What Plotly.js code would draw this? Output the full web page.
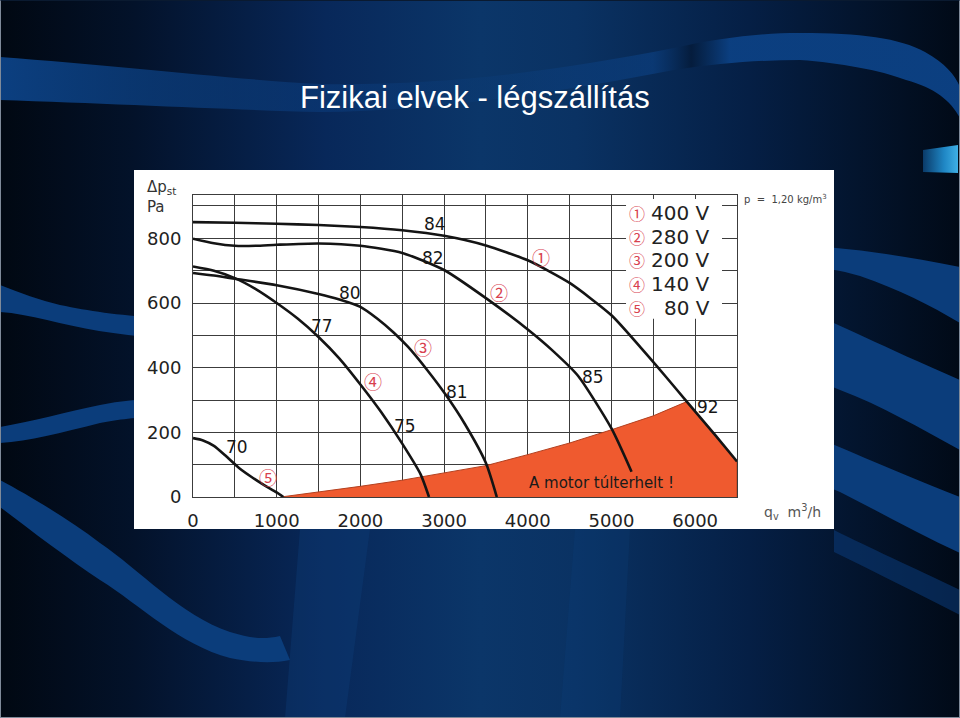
<!DOCTYPE html>
<html>
<head>
<meta charset="utf-8">
<script src="https://cdn.plot.ly/plotly-3.0.1.min.js"></script>
<style>
  html, body { margin: 0; padding: 0; background: #010a17; }
  #slide {
    position: relative; width: 960px; height: 718px; overflow: hidden;
    background: linear-gradient(90deg, #010812 0%, #03122a 14%, #08285a 34%, #0b3669 50%, #0a3263 60%, #051f45 78%, #010a17 100%);
  }
  #bg { position: absolute; left: 0; top: 0; }
  #panel { position: absolute; left: 134px; top: 170px; width: 700px; height: 359px; background: #fff; }
  #chart { position: absolute; left: 0; top: 0; width: 960px; height: 718px; }
  #frame { position: absolute; left: 0; top: 0; width: 958px; height: 716px; border: 1px solid #7f8a99; border-top-color: #0a1a30; pointer-events: none; }
</style>
</head>
<body>
<div id="slide">
  <svg id="bg" width="960" height="718" viewBox="0 0 960 718">
    <defs>
      <linearGradient id="topband" x1="0" x2="1" y1="0" y2="0">
        <stop offset="0" stop-color="#0c4286" stop-opacity="0.95"/>
        <stop offset="0.3" stop-color="#0c4286" stop-opacity="0.5"/>
        <stop offset="0.5" stop-color="#0c4286" stop-opacity="0.2"/>
        <stop offset="0.68" stop-color="#0c4286" stop-opacity="0.6"/>
        <stop offset="0.72" stop-color="#041a38" stop-opacity="0.8"/>
        <stop offset="0.76" stop-color="#0c4286" stop-opacity="0.9"/>
        <stop offset="1" stop-color="#0c4286" stop-opacity="0.95"/>
      </linearGradient>
      <linearGradient id="cyan" x1="0" x2="1" y1="0" y2="0">
        <stop offset="0" stop-color="#0a3a68"/>
        <stop offset="0.6" stop-color="#1f86c4"/>
        <stop offset="1" stop-color="#3fb0e6"/>
      </linearGradient>
    </defs>
    <path fill="url(#topband)" d="M0,57 C120,66 240,80 320,84 C450,86 560,70 674,48 C720,38 760,33 800,33 C860,33 900,38 925,52 C945,63 955,75 960,87 L960,118 C950,100 935,88 906,80 C880,70 840,63 800,60 C760,60 720,63 674,70 C560,92 430,112 320,112 C240,110 120,104 0,100 Z"/>
    <path fill="#0b3d7b" d="M0,285 C20,293 40,300 60,305 C90,311 115,315 160,318 L160,338 C115,335 80,328 47,320 C30,316 15,313 0,312 Z"/>
    <path fill="#0b3d7b" d="M0,427 C30,422 70,411 100,405 C120,401 140,399 160,398 L160,416 C130,418 115,420 100,423 C60,433 30,441 0,443 Z"/>
    <path fill="#0b3d7b" d="M0,480 C30,496 70,520 100,543 C140,570 180,615 230,632 C250,638 262,640 280,636 L290,660 C270,664 250,662 230,658 C180,645 140,605 100,580 C70,560 30,530 0,507 Z"/>
    <path fill="#0d3f7c" fill-opacity="0.35" d="M300,529 L370,529 L345,718 L285,718 Z"/>
    <path fill="#0d3f7c" fill-opacity="0.25" d="M575,529 L630,529 L620,718 L560,718 Z"/>
    <path fill="#0b3d7b" d="M800,245 C850,248 900,255 960,267 L960,323 C930,305 900,290 860,276 C840,270 820,267 800,266 Z"/>
    <path fill="#0b3d7b" d="M800,308 C840,325 880,345 960,380 L960,450 C920,428 880,405 840,390 C825,384 812,378 800,374 Z"/>
    <path fill="#0b3d7b" d="M800,430 C840,447 880,465 960,497 L960,553 C920,535 880,512 840,492 C825,486 812,480 800,476 Z"/>
    <path fill="#0b3d7b" d="M834,530 C870,548 910,566 960,590 L960,615 C915,592 875,572 834,552 Z" fill-opacity="0.55"/>
    <path fill="url(#cyan)" d="M923,150 L958,145 L958,173 L923,172 Z"/>
  </svg>
  <div id="panel"></div>
  <div id="chart"></div>
  <div id="frame"></div>
</div>
<script>
// ---- data ----
const flow400 = [0, 500, 1000, 1500, 2000, 2500, 3000, 3500, 4000, 4500, 5000, 5350, 5650, 5900, 6250, 6500];
const dp400   = [850, 848, 845, 841, 835, 825, 808, 778, 732, 662, 562, 462, 372, 295, 188, 110];

const flow280 = [0, 250, 500, 750, 1000, 1500, 2000, 2500, 3000, 3500, 4000, 4300, 4600, 5000, 5240];
const dp280   = [799, 785, 777, 777, 780, 784, 777, 755, 702, 615, 518, 452, 375, 212, 78];

const flow200 = [0, 250, 500, 1000, 1500, 1750, 2000, 2200, 2400, 2570, 2800, 3020, 3250, 3500, 3630];
const dp200   = [693, 685, 675, 655, 628, 611, 588, 552, 508, 464, 392, 316, 225, 105, 0];

const flow140 = [0, 250, 500, 750, 1000, 1250, 1500, 1750, 2000, 2250, 2500, 2720, 2820];
const dp140   = [713, 700, 677, 643, 600, 552, 495, 428, 348, 262, 165, 70, 0];

const flow80  = [0, 120, 250, 400, 550, 700, 850, 1000, 1080];
const dp80    = [182, 175, 158, 125, 90, 62, 37, 14, 0];

const overFlow = [1050, 1500, 2000, 2500, 3000, 3500, 4000, 4500, 5000, 5500, 5900, 6250, 6500, 6500];
const overDp   = [0, 15, 33, 52, 74, 97, 131, 167, 208, 251, 295, 188, 110, 0];

const xTickVals = [0, 1000, 2000, 3000, 4000, 5000, 6000];
const xTickText = ['0', '1000', '2000', '3000', '4000', '5000', '6000'];
const yTickVals = [0, 200, 400, 600, 800];
const yTickText = ['0', '200', '400', '600', '800'];
const xMinorVals = [500, 1500, 2500, 3500, 4500, 5500];
const yMinorVals = [100, 300, 500, 700, 900];

const curveLabels = ['84', '82', '80', '77', '81', '75', '85', '92', '70'];
const curveLabelX = [2891, 2867, 1874, 1539, 3158, 2536, 4781, 6157, 523];
const curveLabelY = [845, 740, 632, 530, 326, 221, 372, 279, 156];

const circleLabels = ['①', '②', '③', '④', '⑤'];
const circleX = [4159, 3657, 2748, 2150, 894];
const circleY = [743, 635, 465, 360, 63];

const legendVolts = ['400 V', '280 V', '200 V', '140 V', '80 V'];
const legendY = [878, 804, 733, 659, 585];

const title = 'Fizikai elvek - légszállítás';
const overloadText = 'A motor túlterhelt !';

// ---- traces ----
const curveStyle = {color: '#141414', width: 2.6, shape: 'spline', smoothing: 0.6};
const traces = [
  {x: overFlow, y: overDp, mode: 'lines', fill: 'toself', fillcolor: '#ef5a2f',
   line: {color: '#b3401f', width: 1}, hoverinfo: 'skip', showlegend: false},
  {x: flow400, y: dp400, mode: 'lines', line: curveStyle, showlegend: false},
  {x: flow280, y: dp280, mode: 'lines', line: curveStyle, showlegend: false},
  {x: flow200, y: dp200, mode: 'lines', line: curveStyle, showlegend: false},
  {x: flow140, y: dp140, mode: 'lines', line: curveStyle, showlegend: false},
  {x: flow80,  y: dp80,  mode: 'lines', line: curveStyle, showlegend: false}
];

const FONT = 'DejaVu Sans, Liberation Sans, Arial, sans-serif';
const CIRC = 'Noto Sans CJK JP, DejaVu Sans, sans-serif';
const annotations = [];
curveLabels.forEach((t, i) => annotations.push({
  x: curveLabelX[i], y: curveLabelY[i], text: t, showarrow: false,
  font: {family: FONT, size: 17, color: '#161616'}
}));
circleLabels.forEach((t, i) => annotations.push({
  x: circleX[i], y: circleY[i], text: t, showarrow: false,
  font: {family: CIRC, size: 18, color: '#d8404e'}
}));
legendVolts.forEach((t, i) => {
  annotations.push({x: 5300, y: legendY[i], text: circleLabels[i], showarrow: false,
    font: {family: CIRC, size: 16, color: '#d8404e'}});
  annotations.push({x: 6201, y: legendY[i], xanchor: 'right', text: t, showarrow: false,
    font: {family: FONT, size: 20, color: '#222'}});
});
annotations.push({x: 4877, y: 44, text: overloadText, showarrow: false,
  font: {family: FONT, size: 15, color: '#1a1a1a'}});
annotations.push({xref: 'paper', yref: 'paper', x: -0.089, y: 0.993, xanchor: 'left', yanchor: 'middle',
  align: 'left', text: 'Δp<sub>st</sub><br>Pa', showarrow: false,
  font: {family: FONT, size: 15, color: '#333'}});
annotations.push({xref: 'paper', yref: 'paper', x: 1.046, y: -0.05, xanchor: 'left', yanchor: 'middle',
  text: 'q<sub>v</sub>  m<sup>3</sup>/h', showarrow: false,
  font: {family: FONT, size: 14, color: '#555'}});
annotations.push({xref: 'paper', yref: 'paper', x: 1.009, y: 0.987, xanchor: 'left', yanchor: 'middle',
  text: 'p  =  1,20 kg/m<sup>3</sup>', showarrow: false,
  font: {family: FONT, size: 10, color: '#444'}});

const GRID = '#3c3c3c';
const layout = {
  width: 960, height: 718,
  margin: {l: 193, r: 223, t: 195, b: 221, pad: 0},
  paper_bgcolor: 'rgba(0,0,0,0)', plot_bgcolor: 'rgba(0,0,0,0)',
  title: {text: title, x: 0.1967, xref: 'paper', xanchor: 'left', y: 0.865, yref: 'container', yanchor: 'middle',
          font: {family: 'Liberation Sans, Arial, sans-serif', size: 31, color: '#ffffff'}},
  xaxis: {range: [0, 6500], tickmode: 'array', tickvals: xTickVals, ticktext: xTickText, showgrid: true,
          gridcolor: GRID, gridwidth: 1, zeroline: false, showline: true, mirror: true,
          linecolor: GRID, linewidth: 1, ticks: 'outside', ticklen: 7, tickcolor: 'rgba(0,0,0,0)',
          minor: {tickmode: 'array', tickvals: xMinorVals, showgrid: true, gridcolor: GRID, gridwidth: 1, ticks: ''},
          tickfont: {family: FONT, size: 18, color: '#222'}, fixedrange: true},
  yaxis: {range: [0, 934], tickmode: 'array', tickvals: yTickVals, ticktext: yTickText, showgrid: true,
          gridcolor: GRID, gridwidth: 1, zeroline: false, showline: true, mirror: true,
          linecolor: GRID, linewidth: 1, ticks: 'outside', ticklen: 7, tickcolor: 'rgba(0,0,0,0)',
          minor: {tickmode: 'array', tickvals: yMinorVals, showgrid: true, gridcolor: GRID, gridwidth: 1, ticks: ''},
          tickfont: {family: FONT, size: 18, color: '#222'}, fixedrange: true},
  shapes: [
    {type: 'rect', xref: 'x', yref: 'y', x0: 5174, x1: 6321, y0: 551, y1: 922,
     fillcolor: '#ffffff', line: {width: 0}, layer: 'above'}
  ],
  annotations: annotations,
  showlegend: false
};

Plotly.newPlot('chart', traces, layout, {displayModeBar: false, staticPlot: true});
</script>
</body>
</html>
